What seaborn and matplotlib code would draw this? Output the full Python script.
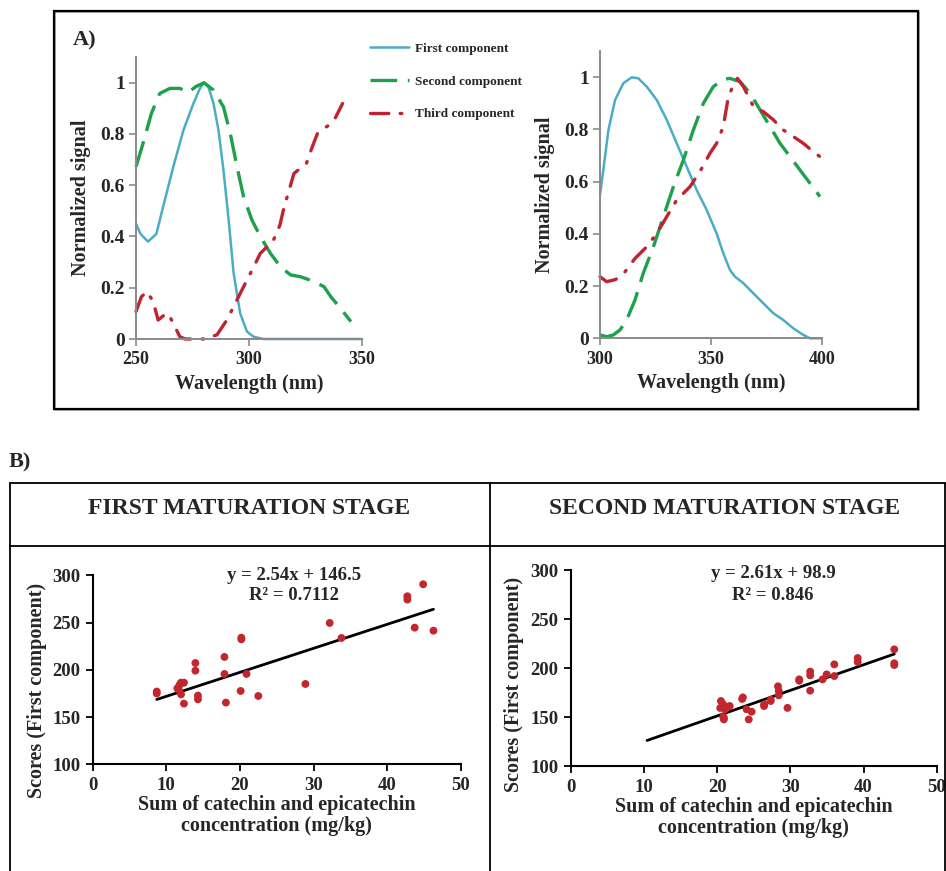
import numpy as np
import pandas as pd
import matplotlib
matplotlib.use("Agg")
import matplotlib.pyplot as plt
from matplotlib.lines import Line2D
from matplotlib.patches import Rectangle
from matplotlib.ticker import FuncFormatter
import seaborn as sns

# ---------------- data ----------------
# Panel A, left: excitation-side spectra (250-350 nm)
wl_a1_first = [250, 252, 255.3, 259, 262, 266.5, 271, 275.4, 278.3, 280.1, 282, 284.3,
               286.5, 288.7, 291, 293.2, 296.1, 299.1, 302, 306.5, 320, 350]
sig_a1_first = [0.45, 0.41, 0.38, 0.41, 0.516, 0.672, 0.815, 0.919, 0.978, 1.0, 0.984, 0.919,
                0.815, 0.659, 0.464, 0.256, 0.10, 0.029, 0.009, 0.0, 0.0, 0.0]

wl_a1_second = [250, 253.1, 256.8, 260.5, 265, 269.4, 273.1, 276.5, 280.1, 284.3, 288.7, 291.7,
                294.7, 297.6, 301.3, 305, 309.5, 313.9, 318.4, 322.8, 328.8, 333.2, 336.2,
                339.9, 345.1]
sig_a1_second = [0.672, 0.763, 0.88, 0.958, 0.978, 0.978, 0.962, 0.985, 1.0, 0.971, 0.906, 0.802,
                 0.672, 0.555, 0.464, 0.40, 0.334, 0.282, 0.25, 0.243, 0.224, 0.204, 0.165,
                 0.126, 0.068]

wl_a1_third = [250, 252.4, 254.9, 257.6, 259.8, 262, 264.2, 266.5, 269.4, 271.7, 279.8, 285.8,
               290.2, 293.9, 297.6, 302.1, 305, 308, 310.2, 313.7, 315.4, 319.9, 325.4, 328,
               330.3, 333.2, 335.5, 337.7, 341.4]
sig_a1_third = [0.107, 0.165, 0.185, 0.146, 0.074, 0.09, 0.10, 0.061, 0.009, 0.0, 0.0, 0.016,
                0.074, 0.139, 0.204, 0.282, 0.334, 0.36, 0.373, 0.445, 0.51, 0.646, 0.685, 0.75,
                0.802, 0.822, 0.835, 0.854, 0.919]

# Panel A, right: emission-side spectra (300-400 nm)
wl_a2_first = [300, 301.5, 303.8, 306.8, 310.5, 314.3, 317.3, 321.1, 325.6, 330.1, 334.6, 339.1,
               343.6, 348.1, 352.6, 355.6, 358.6, 360.9, 364.7, 369.2, 373.7, 378.2, 382.7,
               387.2, 391.7, 394.7, 400]
sig_a2_first = [0.55, 0.645, 0.798, 0.913, 0.977, 1.0, 0.996, 0.964, 0.913, 0.837, 0.747, 0.658,
                0.568, 0.492, 0.402, 0.326, 0.262, 0.236, 0.211, 0.172, 0.134, 0.096, 0.07,
                0.038, 0.013, 0.0, 0.0]

wl_a2_second = [300, 303, 306, 309, 312, 315.8, 319.5, 324.1, 328.6, 333.1, 337.6, 342.1, 346.6,
                351.1, 355.6, 358.6, 363.2, 367.7, 372.2, 376.7, 381.2, 385.7, 390.2, 394.7,
                399.2]
sig_a2_second = [0.013, 0.006, 0.013, 0.032, 0.07, 0.147, 0.249, 0.351, 0.466, 0.581, 0.683,
                 0.798, 0.90, 0.964, 0.992, 0.996, 0.983, 0.939, 0.875, 0.811, 0.747, 0.696,
                 0.645, 0.594, 0.543]

wl_a2_third = [300, 303, 307, 311.3, 315.8, 321.1, 325.6, 330.1, 334.6, 340.6, 345.1, 349.6,
               352.6, 355.6, 357.9, 360.2, 362, 364.7, 369.2, 373.7, 378.2, 382.7, 387.2,
               391.7, 396.2, 399.2]
sig_a2_third = [0.236, 0.217, 0.225, 0.255, 0.306, 0.351, 0.402, 0.466, 0.53, 0.581, 0.639,
                0.709, 0.747, 0.811, 0.926, 0.971, 0.996, 0.964, 0.888, 0.868, 0.837, 0.798,
                0.773, 0.747, 0.715, 0.696]

component_names = ["First component", "Second component", "Third component"]

# Panel B: scores vs. catechin + epicatechin concentration
conc_stage1 = [8.7, 8.7, 11.5, 11.8, 12.0, 12.4, 11.7, 12.0, 12.4, 13.95, 13.95, 14.3, 14.3,
               17.9, 17.9, 18.1, 20.2, 20.2, 20.1, 20.9, 22.5, 28.9, 32.2, 33.8, 42.75, 42.75,
               43.75, 44.9, 46.3]
score_stage1 = [177, 175, 180.4, 184, 186.4, 186.4, 178.7, 174, 164.2, 207.2, 199.1, 172.7, 168.8,
                213.6, 195.6, 165.3, 234, 232.3, 177.6, 195.6, 172.3, 185, 249.6, 233.7, 277.8,
                274.3, 244.6, 290.5, 241.4]

conc_stage2 = [20.4, 20.5, 20.8, 20.8, 20.9, 20.9, 21.1, 21.6, 21.7, 23.4, 23.5, 24.0, 24.3,
               24.7, 26.4, 26.4, 27.3, 27.3, 28.3, 28.4, 28.4, 29.6, 31.2, 31.2, 32.7, 32.7,
               32.7, 34.4, 34.95, 36.0, 36.0, 39.2, 39.2, 44.2, 44.2, 44.2]
score_stage2 = [159.2, 166.3, 162.9, 150.3, 149.3, 147.6, 157.8, 160.5, 161.2, 168.4, 170.0,
                157.9, 147.5, 155.4, 162.9, 161.2, 167.7, 166.3, 181.3, 176.8, 172.1, 159.3,
                188.4, 187.0, 196.3, 192.5, 176.9, 188.4, 193.5, 203.7, 191.8, 210.2, 206.1,
                219.0, 204.8, 203.0]

fit1_slope, fit1_intercept, fit1_r2 = 2.54, 146.5, "0.7112"
fit2_slope, fit2_intercept, fit2_r2 = 2.61, 98.9, "0.846"
fit2_span = (10.4, 44.2)

stage_titles = ["FIRST MATURATION STAGE", "SECOND MATURATION STAGE"]

# ---------------- style ----------------
sns.set_theme(style="white")
plt.rcParams["font.family"] = ["Liberation Serif", "DejaVu Serif"]
plt.rcParams["font.weight"] = "bold"
plt.rcParams["axes.labelweight"] = "bold"

BLUE = "#4BACC6"
GREEN = "#1FA04A"
RED = "#BF2430"
DOT = "#C1272D"
GREY = "#8A8A8A"

W, H = 946, 871
fig = plt.figure(figsize=(W / 100, H / 100), dpi=100)


def fx(px):
    return px / W


def fy(py):
    return 1 - py / H


def fbox(l, t, r, b):
    return [fx(l), fy(b), fx(r) - fx(l), fy(t) - fy(b)]


def spectra_axes(ax, xlim, xticks):
    ax.set_xlim(*xlim)
    ax.set_ylim(0, 1.1)
    ax.set_xticks(xticks)
    ax.set_yticks([0, 0.2, 0.4, 0.6, 0.8, 1.0])
    ax.yaxis.set_major_formatter(FuncFormatter(lambda v, p: f"{v:g}"))
    for s in ["top", "right"]:
        ax.spines[s].set_visible(False)
    for s in ["left", "bottom"]:
        ax.spines[s].set_color(GREY)
        ax.spines[s].set_linewidth(1.4)
    ax.tick_params(axis="both", which="major", direction="out", length=5, width=1.2,
                   color=GREY, pad=4, left=True, bottom=True)
    ax.tick_params(axis="x", labelsize=13)
    ax.tick_params(axis="y", labelsize=14, pad=3)
    for t in ax.get_xticklabels() + ax.get_yticklabels():
        t.set_fontweight("bold")
    ax.set_xlabel("Wavelength (nm)", fontsize=14.5, fontweight="bold", labelpad=4)
    ax.set_ylabel("Normalized signal", fontsize=14.5, fontweight="bold", labelpad=7)
    ax.set_facecolor("none")


def draw_spectra(ax, series):
    styles = [dict(color=BLUE, linewidth=1.8),
              dict(color=GREEN, linewidth=2.4, dashes=(8, 3.2)),
              dict(color=RED, linewidth=2.4, dashes=(5.5, 3.4, 0.5, 3.4),
                   dash_capstyle="round")]
    for (x, y), name, st in zip(series, component_names, styles):
        df = pd.DataFrame({"wl": x, "sig": y})
        sns.lineplot(data=df, x="wl", y="sig", ax=ax, legend=False, label=name,
                     estimator=None, clip_on=False, **st)
    return ax.get_lines()


# ---------------- Panel A ----------------
fig.add_artist(Rectangle((fx(55), fy(410)), fx(919) - fx(55), fy(12) - fy(410),
                         transform=fig.transFigure, facecolor="none",
                         edgecolor="#9a9a9a", linewidth=1.2))
fig.add_artist(Rectangle((fx(53.5), fy(408.5)), fx(917.5) - fx(53.5), fy(11) - fy(408.5),
                         transform=fig.transFigure, facecolor="none",
                         edgecolor="black", linewidth=1.6))
fig.text(fx(85), fy(40), "A)", fontsize=16, fontweight="bold", ha="center", va="center")

ax1 = fig.add_axes(fbox(136, 57.1, 362, 339))
lines = draw_spectra(ax1, [(wl_a1_first, sig_a1_first),
                           (wl_a1_second, sig_a1_second),
                           (wl_a1_third, sig_a1_third)])
spectra_axes(ax1, (250, 350), [250, 300, 350])

ax2 = fig.add_axes(fbox(600, 51.2, 821.7, 338.3))
draw_spectra(ax2, [(wl_a2_first, sig_a2_first),
                   (wl_a2_second, sig_a2_second),
                   (wl_a2_third, sig_a2_third)])
spectra_axes(ax2, (300, 400), [300, 350, 400])

fig.legend(handles=lines, labels=component_names, loc="upper left",
           bbox_to_anchor=(fx(358), fy(31)), frameon=False,
           prop={"family": "Liberation Serif", "weight": "bold", "size": 9.5},
           handlelength=3.0, handletextpad=0.4, labelspacing=1.55)

# ---------------- Panel B ----------------
fig.text(fx(20), fy(462), "B)", fontsize=16, fontweight="bold", ha="center", va="center")

table_lines = [((10, 945), (483, 483)), ((10, 945), (546, 546)),
               ((10, 10), (483, 871)), ((490, 490), (483, 871)), ((944.5, 944.5), (483, 871))]
for xs, ys in table_lines:
    fig.add_artist(Line2D([fx(x) for x in xs], [fy(y) for y in ys],
                          transform=fig.transFigure, color="black", linewidth=1.3))

fig.text(fx(249), fy(509), stage_titles[0], fontsize=17, fontweight="bold",
         ha="center", va="center")
fig.text(fx(725), fy(509), stage_titles[1], fontsize=17, fontweight="bold",
         ha="center", va="center")


def score_axes(ax, ylabel_x, ylabel_y):
    ax.set_xlim(0, 50)
    ax.set_ylim(100, 300)
    ax.set_xticks([0, 10, 20, 30, 40, 50])
    ax.set_yticks([100, 150, 200, 250, 300])
    for s in ["top", "right"]:
        ax.spines[s].set_visible(False)
    for s in ["left", "bottom"]:
        ax.spines[s].set_color("black")
        ax.spines[s].set_linewidth(1.5)
    ax.tick_params(axis="both", direction="out", length=5, width=1.3, color="black",
                   labelsize=13.5, pad=4, left=True, bottom=True)
    for t in ax.get_xticklabels() + ax.get_yticklabels():
        t.set_fontweight("bold")
    ax.set_xlabel("Sum of catechin and epicatechin\nconcentration (mg/kg)",
                  fontsize=14.5, fontweight="bold", labelpad=1, linespacing=1.05)
    ax.set_ylabel("Scores (First component)", fontsize=14.5, fontweight="bold")
    ax.yaxis.set_label_coords(ylabel_x, ylabel_y)
    ax.set_facecolor("none")


ax3 = fig.add_axes(fbox(92.7, 575.3, 460.7, 764.3))
x1 = np.array([min(conc_stage1), max(conc_stage1)])
sns.lineplot(x=x1, y=fit1_slope * x1 + fit1_intercept, ax=ax3, color="black",
             linewidth=2.0, estimator=None)
sns.scatterplot(x=conc_stage1, y=score_stage1, ax=ax3, color=DOT, s=32,
                edgecolor="none", zorder=3)
score_axes(ax3, (47 - 92.7) / 368, 1 - (690 - 575.3) / 189)
fig.text(fx(294), fy(575), f"y = {fit1_slope:.2f}x + {fit1_intercept:g}", fontsize=13.5,
         fontweight="bold", ha="center", va="center")
fig.text(fx(294), fy(595), f"R² = {fit1_r2}", fontsize=13.5, fontweight="bold",
         ha="center", va="center")

ax4 = fig.add_axes(fbox(571, 570, 936.7, 766))
x2 = np.array(fit2_span)
sns.lineplot(x=x2, y=fit2_slope * x2 + fit2_intercept, ax=ax4, color="black",
             linewidth=2.0, estimator=None)
sns.scatterplot(x=conc_stage2, y=score_stage2, ax=ax4, color=DOT, s=32,
                edgecolor="none", zorder=3)
score_axes(ax4, (524 - 571) / 365.7, 1 - (684 - 570) / 196)
fig.text(fx(773), fy(574), f"y = {fit2_slope:.2f}x + {fit2_intercept:g}", fontsize=13.5,
         fontweight="bold", ha="center", va="center")
fig.text(fx(773), fy(595), f"R² = {fit2_r2}", fontsize=13.5, fontweight="bold",
         ha="center", va="center")

fig.savefig("out.png", dpi=100, facecolor="white")
